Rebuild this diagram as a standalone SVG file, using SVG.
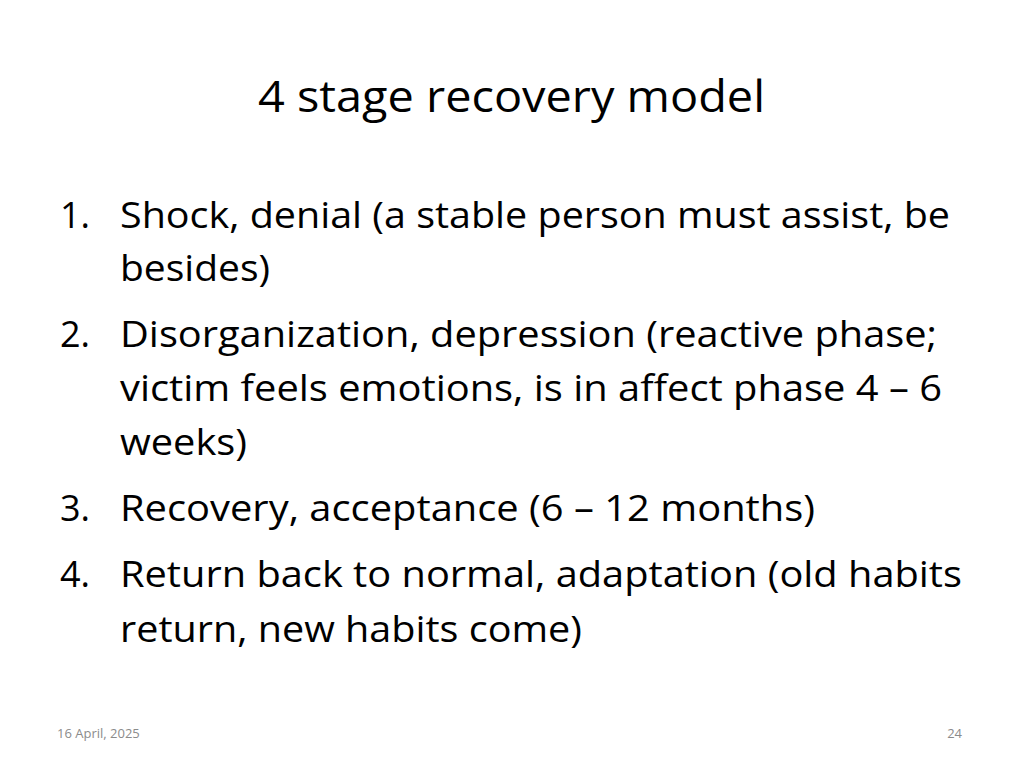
<svg xmlns="http://www.w3.org/2000/svg" width="1024" height="768" viewBox="0 0 1024 768">
<style>
text{font-family:"Open Sans","Liberation Sans",sans-serif;fill:#000}
.b{font-size:36px}
.f{font-size:13px;fill:#8b8b8b}
</style>
<rect width="1024" height="768" fill="#fff"/>
<g id="title"><text x="258" y="112" font-size="44" textLength="507" lengthAdjust="spacingAndGlyphs">4 stage recovery model</text></g>
<g id="list">
<text class="b" x="60" y="228">1.</text>
<text class="b" x="120" y="228" textLength="830" lengthAdjust="spacingAndGlyphs">Shock, denial (a stable person must assist, be</text>
<text class="b" x="120" y="281" textLength="150" lengthAdjust="spacingAndGlyphs">besides)</text>
<text class="b" x="60" y="347">2.</text>
<text class="b" x="120" y="347" textLength="817" lengthAdjust="spacingAndGlyphs">Disorganization, depression (reactive phase;</text>
<text class="b" x="120" y="401" textLength="822" lengthAdjust="spacingAndGlyphs">victim feels emotions, is in affect phase 4 – 6</text>
<text class="b" x="120" y="455" textLength="127" lengthAdjust="spacingAndGlyphs">weeks)</text>
<text class="b" x="60" y="521">3.</text>
<text class="b" x="120" y="521" textLength="695" lengthAdjust="spacingAndGlyphs">Recovery, acceptance (6 – 12 months)</text>
<text class="b" x="60" y="587">4.</text>
<text class="b" x="120" y="587" textLength="842" lengthAdjust="spacingAndGlyphs">Return back to normal, adaptation (old habits</text>
<text class="b" x="120" y="642" textLength="462" lengthAdjust="spacingAndGlyphs">return, new habits come)</text>
</g>
<g id="footer">
<text class="f" x="57" y="738">16 April, 2025</text>
<text class="f" x="962" y="738" text-anchor="end">24</text>
</g>
</svg>
